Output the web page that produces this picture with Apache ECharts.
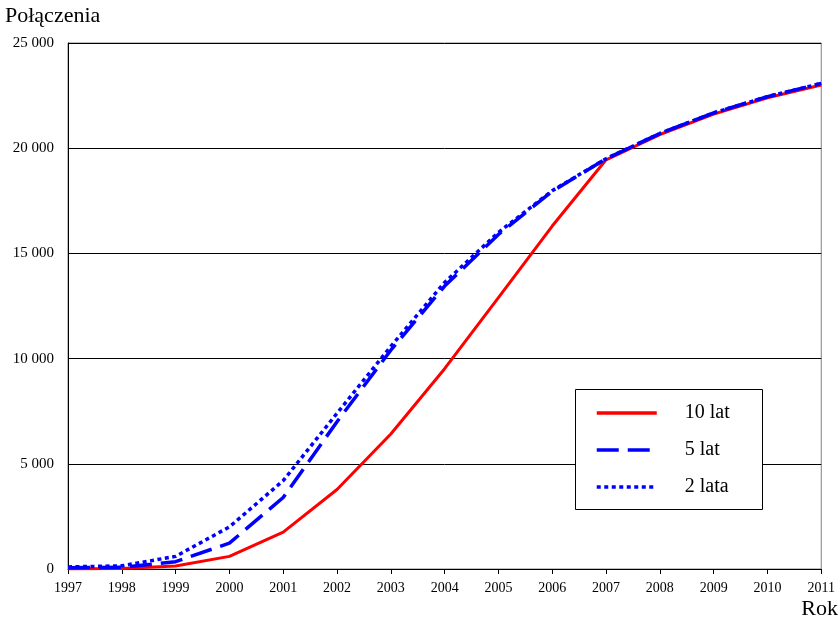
<!DOCTYPE html>
<html><head><meta charset="utf-8">
<script src="https://cdn.jsdelivr.net/npm/echarts@6/dist/echarts.min.js"></script>
<style>html,body{margin:0;padding:0;background:#fff}#c{width:838px;height:619px}</style>
</head><body><div id="c"></div>
<script>
const years = ['1997','1998','1999','2000','2001','2002','2003','2004','2005','2006','2007','2008','2009','2010','2011'];
const lat10 = [0, 20, 140, 600, 1750, 3780, 6420, 9520, 12900, 16300, 19450, 20650, 21620, 22400, 23000];
const lat5  = [60, 80, 350, 1230, 3400, 7000, 10400, 13450, 15900, 17950, 19500, 20700, 21680, 22450, 23080];
const lata2 = [100, 150, 600, 2000, 4200, 7400, 10580, 13620, 16000, 17980, 19500, 20700, 21680, 22450, 23080];
const seriesNames = ['10 lat', '5 lat', '2 lata'];
const yTicks = {min: 0, max: 25000, interval: 5000};

const font = 'Liberation Serif';
const chart = echarts.init(document.getElementById('c'), null, {renderer: 'canvas'});
const fmt = v => String(v).replace(/\B(?=(\d{3})+(?!\d))/g, ' ');
chart.setOption({
  animation: false,
  backgroundColor: '#fff',
  grid: {left: 68, right: 15, top: 43, bottom: 50, show: true, borderColor: '#808080', borderWidth: 1, containLabel: false},
  graphic: [
    {type: 'text', left: 5, top: 5, style: {text: 'Połączenia', font: '22px "' + font + '"', fill: '#000'}},
    {type: 'text', right: 0, top: 598, style: {text: 'Rok', font: '22px "' + font + '"', fill: '#000'}},
    {type: 'rect', shape: {x: 575.5, y: 389.5, width: 187, height: 120}, style: {fill: '#fff', stroke: '#000', lineWidth: 1}, z: 50}
  ],
  legend: {
    orient: 'vertical', left: 590, top: 398, z: 60,
    itemWidth: 60, itemHeight: 14, itemGap: 17,
    data: seriesNames,
    itemStyle: {opacity: 0},
    lineStyle: {width: 3.5},
    textStyle: {fontFamily: font, fontSize: 20, color: '#000', padding: [0, 0, 0, 23]},
    borderWidth: 0
  },
  xAxis: {
    type: 'category', data: years, boundaryGap: false,
    axisLine: {lineStyle: {color: '#000', width: 1}},
    axisTick: {show: true, length: 5, lineStyle: {color: '#000'}},
    axisLabel: {fontFamily: font, fontSize: 14, color: '#000', margin: 12},
    splitLine: {show: false}
  },
  yAxis: {
    type: 'value', min: yTicks.min, max: yTicks.max, interval: yTicks.interval,
    axisLine: {show: true, lineStyle: {color: '#000', width: 1}},
    axisTick: {show: false},
    axisLabel: {fontFamily: font, fontSize: 15, color: '#000', margin: 14, formatter: fmt},
    splitLine: {show: true, lineStyle: {color: '#000', width: 1}}
  },
  series: [
    {name: seriesNames[0], type: 'line', data: lat10, symbol: 'none', z: 3,
     lineStyle: {color: '#ff0000', width: 3}, itemStyle: {color: '#ff0000'}},
    {name: seriesNames[1], type: 'line', data: lat5, symbol: 'none', z: 4,
     lineStyle: {color: '#0000ff', width: 3.5, type: [22, 9]}, itemStyle: {color: '#0000ff'}},
    {name: seriesNames[2], type: 'line', data: lata2, symbol: 'none', z: 5,
     lineStyle: {color: '#0000ff', width: 3.5, type: [4, 3.5]}, itemStyle: {color: '#0000ff'}}
  ]
});
</script></body></html>
